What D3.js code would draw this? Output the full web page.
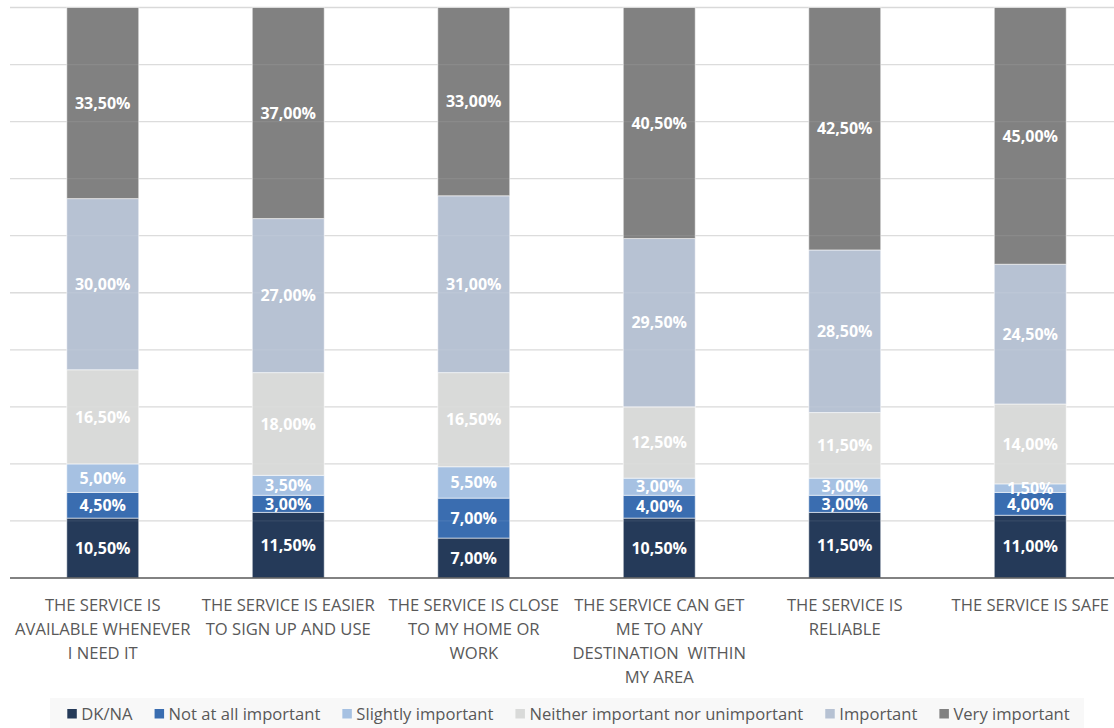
<!DOCTYPE html>
<html>
<head>
<meta charset="utf-8">
<script src="https://cdn.jsdelivr.net/npm/d3@7"></script>
<style>
  html, body { margin: 0; padding: 0; background: #ffffff; }
  svg { display: block; }
</style>
</head>
<body>
<svg id="chart" width="1114" height="728"></svg>
<script>
// Survey statements (line breaks mark how each label wraps under its bar)
const categories = [
  "THE SERVICE IS\nAVAILABLE WHENEVER\nI NEED IT",
  "THE SERVICE IS EASIER\nTO SIGN UP AND USE",
  "THE SERVICE IS CLOSE\nTO MY HOME OR\nWORK",
  "THE SERVICE CAN GET\nME TO ANY\nDESTINATION  WITHIN\nMY AREA",
  "THE SERVICE IS\nRELIABLE",
  "THE SERVICE IS SAFE"
];

const seriesNames = [
  "DK/NA",
  "Not at all important",
  "Slightly important",
  "Neither important nor unimportant",
  "Important",
  "Very important"
];

// Share of respondents (%) per statement, one array per answer
const dkNa            = [10.5, 11.5, 7.0, 10.5, 11.5, 11.0];
const notAtAll        = [4.5, 3.0, 7.0, 4.0, 3.0, 4.0];
const slightly        = [5.0, 3.5, 5.5, 3.0, 3.0, 1.5];
const neither         = [16.5, 18.0, 16.5, 12.5, 11.5, 14.0];
const important       = [30.0, 27.0, 31.0, 29.5, 28.5, 24.5];
const veryImportant   = [33.5, 37.0, 33.0, 40.5, 42.5, 45.0];

const yTicks = [0, 10, 20, 30, 40, 50, 60, 70, 80, 90, 100];

const colors = ["#253a59", "#3a6db0", "#a6c1e2", "#d9dad9", "#b7c2d3", "#818181"];

const seriesValues = [dkNa, notAtAll, slightly, neither, important, veryImportant];

const rows = categories.map((c, i) => {
  const r = { cat: c };
  seriesNames.forEach((s, j) => { r[s] = seriesValues[j][i]; });
  return r;
});
const stacked = d3.stack().keys(seriesNames)(rows);

const svg = d3.select("#chart");
const plotLeft = 10, plotRight = 1123, plotTop = 7.5, plotBottom = 578;

const x = d3.scaleBand()
  .domain(categories)
  .range([plotLeft, plotRight])
  .paddingInner(0.612)
  .paddingOuter(0.306);

const y = d3.scaleLinear().domain([0, 100]).range([plotBottom, plotTop]);

const fmt = v => v.toFixed(2).replace(".", ",") + "%";

// Horizontal gridlines
svg.append("g")
  .selectAll("line")
  .data(yTicks.filter(t => t > 0))
  .join("line")
  .attr("x1", plotLeft).attr("x2", plotRight)
  .attr("y1", d => y(d)).attr("y2", d => y(d))
  .attr("stroke", "#d9d9d9")
  .attr("stroke-width", 1.3);

// Stacked bars
const layers = svg.append("g")
  .selectAll("g")
  .data(stacked)
  .join("g")
  .attr("fill", (d, i) => colors[i]);

layers.selectAll("rect")
  .data(d => d.map(p => ({ p, cat: p.data.cat })))
  .join("rect")
  .attr("x", d => x(d.cat))
  .attr("width", x.bandwidth())
  .attr("y", d => y(d.p[1]))
  .attr("height", d => y(d.p[0]) - y(d.p[1]))
  .attr("stroke", "#ffffff")
  .attr("stroke-opacity", 0.55)
  .attr("stroke-width", 1);

// Faint gridlines showing through the bars
svg.append("g")
  .selectAll("line")
  .data(yTicks.filter(t => t > 0 && t < 100))
  .join("line")
  .attr("x1", plotLeft).attr("x2", plotRight)
  .attr("y1", d => y(d)).attr("y2", d => y(d))
  .attr("stroke", "#ffffff")
  .attr("stroke-opacity", 0.08)
  .attr("stroke-width", 1.3);

// Value labels
const labels = svg.append("g")
  .attr("font-family", "'Open Sans', sans-serif")
  .attr("font-weight", "bold")
  .attr("font-size", 16)
  .attr("fill", "#ffffff")
  .attr("text-anchor", "middle");

stacked.forEach(layer => {
  layer.forEach(p => {
    labels.append("text")
      .attr("x", x(p.data.cat) + x.bandwidth() / 2)
      .attr("y", (y(p[0]) + y(p[1])) / 2)
      .attr("dy", "0.36em")
      .text(fmt(p[1] - p[0]));
  });
});

// Baseline axis
const xAxis = svg.append("g")
  .attr("transform", `translate(0,${plotBottom})`)
  .call(d3.axisBottom(x).tickSize(0).tickFormat(""));
xAxis.select(".domain").attr("stroke", "#595959").attr("stroke-width", 1.6)
  .attr("d", `M${plotLeft},0H${plotRight}`);

// Category labels
const catG = svg.append("g")
  .attr("font-family", "'Open Sans', sans-serif")
  .attr("font-size", 16.6)
  .attr("fill", "#595959")
  .attr("text-anchor", "middle");

categories.forEach(c => {
  const t = catG.append("text")
    .attr("x", x(c) + x.bandwidth() / 2)
    .attr("y", 611);
  c.split("\n").forEach((line, i) => {
    t.append("tspan")
      .attr("x", x(c) + x.bandwidth() / 2)
      .attr("dy", i === 0 ? 0 : 24)
      .attr("xml:space", "preserve")
      .text(line);
  });
});

// Legend
const legend = svg.append("g");
legend.append("rect")
  .attr("x", 50).attr("y", 698)
  .attr("width", 1034).attr("height", 30)
  .attr("fill", "#f8f8f8");

const legendItems = legend.append("g")
  .attr("font-family", "'Open Sans', sans-serif")
  .attr("font-size", 16.6)
  .attr("fill", "#595959");

const legendGap = 22;
let cursor = 0;
seriesNames.forEach((name, i) => {
  const g = legendItems.append("g").attr("transform", `translate(${cursor},0)`);
  g.append("rect")
    .attr("x", 0).attr("y", 709)
    .attr("width", 9.5).attr("height", 9.5)
    .attr("fill", colors[i]);
  const t = g.append("text")
    .attr("x", 14).attr("y", 720)
    .text(name);
  const w = t.node().getComputedTextLength();
  cursor += 14 + w + legendGap;
});
const totalW = cursor - legendGap;
legendItems.attr("transform", `translate(${568.5 - totalW / 2},0)`);
</script>
</body>
</html>
